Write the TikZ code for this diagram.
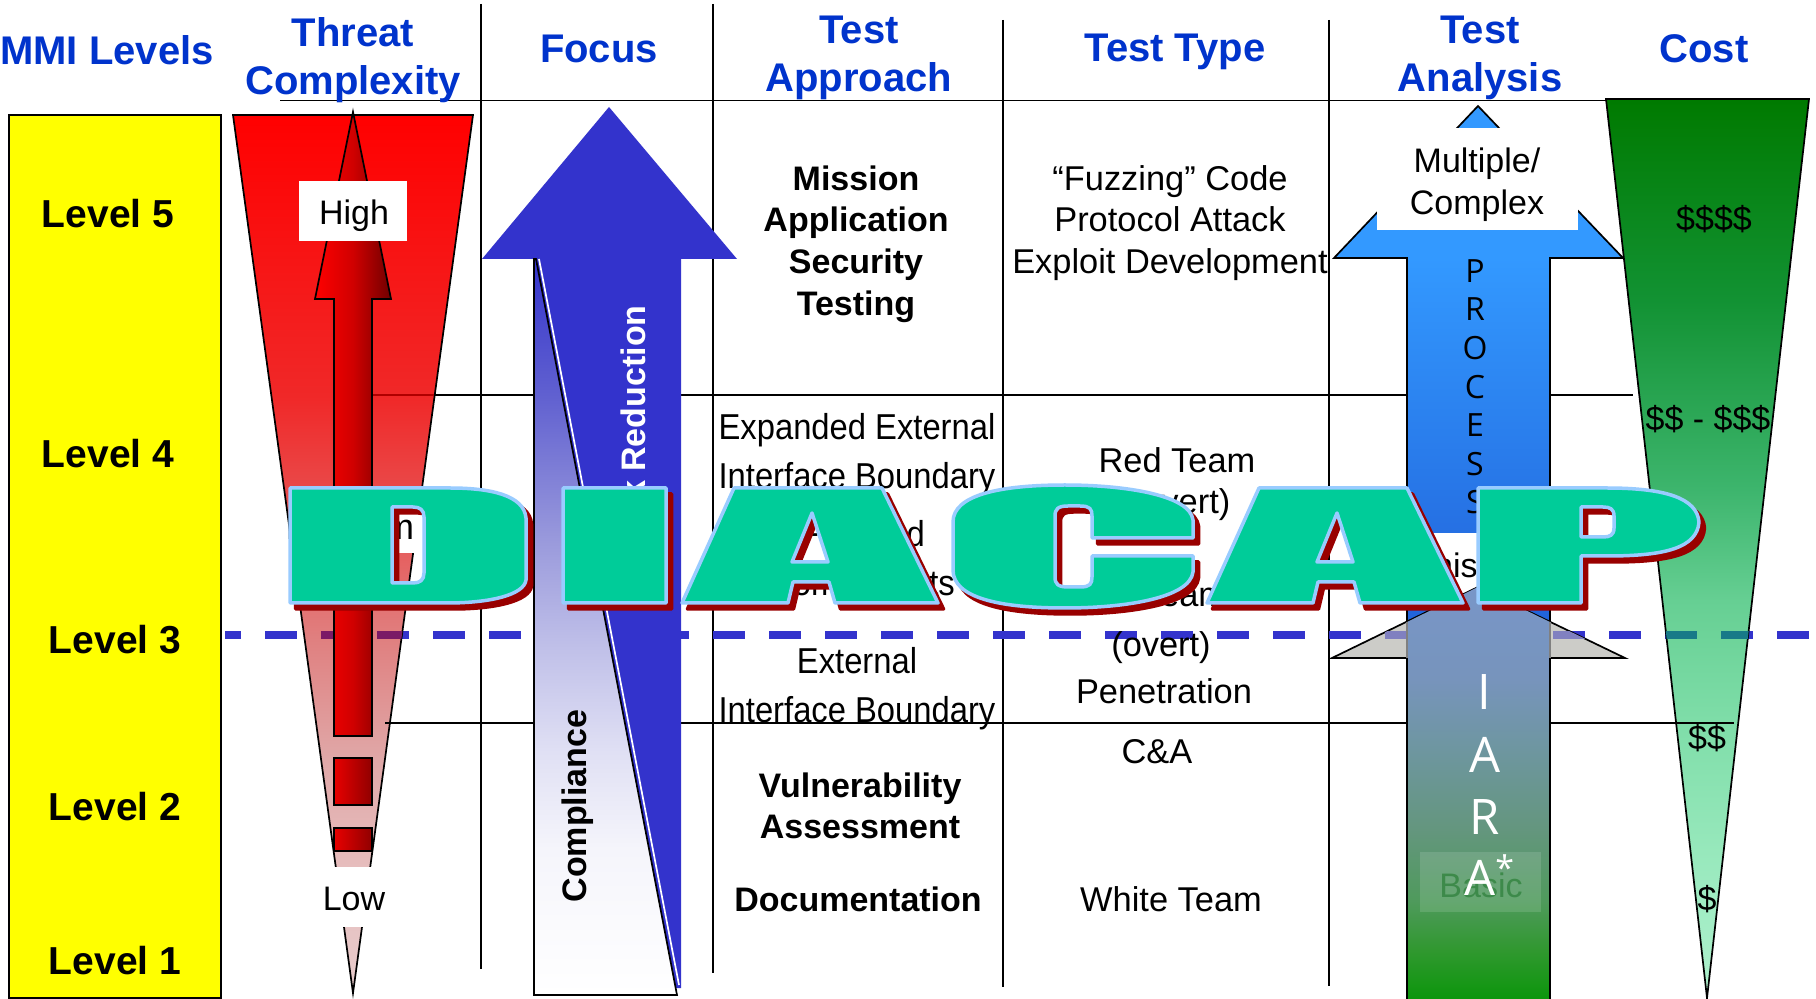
\documentclass[tikz,border=0pt]{standalone}
\usepackage{fontspec}
\usepackage{graphicx}
\setmainfont{Liberation Sans}
\newfontfamily\narrowf[FakeStretch=0.91]{Liberation Sans}
\newfontfamily\opensf{Open Sans}
\definecolor{hdrblue}{HTML}{0033CC}
\definecolor{riskblue}{HTML}{3333CC}
\definecolor{wagreen}{HTML}{00CC99}
\definecolor{waedge}{HTML}{99CCFF}
\definecolor{washadow}{HTML}{990000}
\definecolor{lvlyellow}{HTML}{FFFF00}
\definecolor{ra}{RGB}{232,204,204}\definecolor{rb}{RGB}{230,188,188}\definecolor{rc}{RGB}{224,168,168}
\definecolor{rd}{RGB}{224,128,128}\definecolor{re}{RGB}{232,80,80}\definecolor{rf}{RGB}{240,40,40}\definecolor{rg}{RGB}{255,0,0}
\definecolor{ga}{RGB}{174,240,204}\definecolor{gb}{RGB}{160,236,195}\definecolor{gc}{RGB}{126,221,168}
\definecolor{gd}{RGB}{102,207,147}\definecolor{ge}{RGB}{61,181,109}\definecolor{gf}{RGB}{18,146,51}\definecolor{gg}{RGB}{0,122,0}
\definecolor{ca}{RGB}{255,255,255}\definecolor{cb}{RGB}{245,245,251}\definecolor{cc}{RGB}{224,224,244}
\definecolor{cd}{RGB}{190,190,232}\definecolor{ce}{RGB}{154,154,220}\definecolor{cf}{RGB}{96,96,208}\definecolor{cg}{RGB}{53,53,204}
\definecolor{pa}{RGB}{32,96,216}\definecolor{pb}{RGB}{51,153,255}
\definecolor{ia}{RGB}{12,150,12}\definecolor{ib}{RGB}{48,152,47}\definecolor{ic}{RGB}{79,154,92}
\definecolor{id}{RGB}{100,150,126}\definecolor{ie}{RGB}{110,150,160}\definecolor{if}{RGB}{119,148,188}\definecolor{ig}{RGB}{120,150,200}
\pgfdeclareverticalshading{redtrap}{100bp}{
 color(0bp)=(ra); color(25bp)=(ra); color(32.6bp)=(rb); color(38.3bp)=(rc);
 color(45.1bp)=(rd); color(52.5bp)=(re); color(59bp)=(rf); color(75bp)=(rg); color(100bp)=(rg)}
\pgfdeclareverticalshading{greentrap}{100bp}{
 color(0bp)=(ga); color(25bp)=(ga); color(30.5bp)=(gb); color(40.5bp)=(gc);
 color(47.1bp)=(gd); color(53.3bp)=(ge); color(63.8bp)=(gf); color(75bp)=(gg); color(100bp)=(gg)}
\pgfdeclareverticalshading{complshade}{100bp}{
 color(0bp)=(ca); color(25bp)=(ca); color(34.9bp)=(cb); color(41.5bp)=(cc);
 color(49bp)=(cd); color(55.8bp)=(ce); color(65.8bp)=(cf); color(75bp)=(cg); color(100bp)=(cg)}
\pgfdeclareverticalshading{procshade}{100bp}{
 color(0bp)=(pa); color(25bp)=(pa); color(60.8bp)=(pb); color(75bp)=(pb); color(100bp)=(pb)}
\pgfdeclareverticalshading{iarashade}{100bp}{
 color(0bp)=(ia); color(25bp)=(ia); color(30.9bp)=(ib); color(36.9bp)=(ic);
 color(45.6bp)=(id); color(55.3bp)=(ie); color(63.8bp)=(if); color(75bp)=(ig); color(100bp)=(ig)}
\tikzset{
 gridline/.style={draw=black,line width=.85pt},
 outl/.style={draw=black,line width=.85pt},
 dashline/.style={line width=3.75pt,dash pattern=on 16pt off 12pt,dash phase=8pt},
 txt/.style={inner sep=0pt,align=center,text=black},
 hdr/.style={txt,text=hdrblue,font=\fontsize{20}{24}\selectfont\bfseries},
 lvl/.style={txt,font=\fontsize{19.5}{23}\selectfont\bfseries},
 body/.style={txt,font=\fontsize{17}{20.8}\selectfont},
 bodyb/.style={txt,font=\fontsize{17}{20.8}\selectfont\bfseries},
 coltext/.style={txt,font=\fontsize{17.2}{20.8}\selectfont},
 nartext/.style={txt,font=\narrowf\fontsize{18}{24.5}\selectfont},
 sideb/.style={txt,font=\fontsize{17}{20}\selectfont\bfseries},
 iara/.style={txt,text=white,font=\opensf\fontsize{24.5}{28}\selectfont},
}
% outlines of the stretched banner letters; holes run the other way round
\newcommand\bannerpath{
 (290,488) -- (450,488) .. controls (490,488) and (524,495) .. (526,518) -- (526,580) .. controls (524,595) and (490,603) .. (447,603) -- (290,603) -- cycle
 (392,507) -- (392,583) -- (413,583) .. controls (420,583) and (424,580) .. (424,573) -- (424,517) .. controls (424,510) and (420,507) .. (413,507) -- cycle
 (563,488) -- (666,488) -- (666,603) -- (563,603) -- cycle
 (734,488) -- (882,488) -- (938,603) -- (835,603) -- (829,582) -- (793,582) -- (788,603) -- (682,603) -- cycle
 (812,513) -- (792,562) -- (828,562) -- cycle
 (1065,485) .. controls (1125,485) and (1190,495) .. (1193,520) -- (1193,538) -- (1092,538) -- (1092,516) .. controls (1092,509) and (1090,506) .. (1080,506) -- (1068,506) .. controls (1058,506) and (1055,509) .. (1055,516) -- (1055,577) .. controls (1055,584) and (1058,587) .. (1068,587) -- (1080,587) .. controls (1090,587) and (1092,584) .. (1092,577) -- (1092,556) -- (1193,556) -- (1193,572) .. controls (1190,598) and (1125,608) .. (1065,608) .. controls (1000,608) and (953,598) .. (953,570) -- (953,522) .. controls (953,495) and (1000,485) .. (1065,485) -- cycle
 (1259,488) -- (1407,488) -- (1463,603) -- (1360,603) -- (1354,582) -- (1318,582) -- (1313,603) -- (1207,603) -- cycle
 (1337,513) -- (1317,562) -- (1353,562) -- cycle
 (1478,488) -- (1607,488) .. controls (1665,488) and (1697,498) .. (1699,522) .. controls (1697,548) and (1665,556) .. (1607,556) -- (1581,556) -- (1581,603) -- (1478,603) -- cycle
 (1581,507) -- (1581,537) -- (1603,537) .. controls (1610,537) and (1614,535) .. (1614,528) -- (1614,516) .. controls (1614,509) and (1610,507) .. (1603,507) -- cycle
}
\begin{document}
\begin{tikzpicture}[x=0.5pt,y=-0.5pt]
\useasboundingbox (0,0) rectangle (1816,999);
\fill[white] (0,0) rectangle (1816,999);

% grid
\draw[gridline] (481,4) -- (481,969);
\draw[gridline] (713,4) -- (713,973);
\draw[gridline] (1003,20) -- (1003,987);
\draw[gridline] (1329,20) -- (1329,986);
\draw[gridline] (280,100.5) -- (1606,100.5);
\draw[gridline] (372,395) -- (1633,395);
\draw[gridline] (385,723) -- (1734,723);

% dashed level line
\draw[dashline,riskblue] (225,635) -- (1816,635);

% level column
\draw[outl,fill=lvlyellow] (9,115) rectangle (221,998);
\node[lvl] (l5) at (108,214) {Level 5};
\node[lvl] (l4) at (108,454) {Level 4};
\node[lvl] (l3) at (115,640) {Level 3};
\node[lvl] (l2) at (115,807) {Level 2};
\node[lvl] (l1) at (115,961) {Level 1};

% headers
\node[hdr] (h1) at (107,50) {MMI Levels};
\node[hdr] (h2) at (353,60) {Threat\\Complexity};
\node[hdr] (h3) at (599,49) {Focus};
\node[hdr] (h4) at (859,58) {Test\\Approach};
\node[hdr] (h5) at (1175,52) {Test Type};
\node[hdr] (h6) at (1480,58) {Test\\Analysis};
\node[hdr] (h7) at (1704,49) {Cost};

% threat complexity
\draw[outl,shading=redtrap] (233,115) -- (473,115) -- (353,993) -- cycle;
\begin{scope}
 \clip (233,115) -- (473,115) -- (353,993) -- cycle;
 \draw[dashline,color={rgb,255:red,123;green,26;blue,102}] (225,635) -- (1816,635);
\end{scope}
\draw[gridline] (385,723) -- (395,723);
\draw[line width=.85pt,color={rgb,255:red,176;green,0;blue,0}] (372,395) -- (434,395);
\draw[outl,left color=red,right color={rgb,255:red,112;green,0;blue,0},middle color={rgb,255:red,208;green,0;blue,0}]
 (353,112) -- (391,299) -- (372,299) -- (372,736) -- (334,736) -- (334,299) -- (315,299) -- cycle;
\draw[outl,left color={rgb,255:red,232;green,0;blue,0},right color={rgb,255:red,144;green,0;blue,0}] (334,758) rectangle (372,805);
\draw[outl,left color={rgb,255:red,232;green,0;blue,0},right color={rgb,255:red,144;green,0;blue,0}] (334,828) rectangle (372,851);
\fill[white] (299,181) rectangle (407,241);
\node[body] (high) at (354,216) {High};
\fill[white] (300,505) rectangle (420,553);
\node[txt,font=\fontsize{18}{20}\selectfont,anchor=base] (med) at (350,540) {Medium};
\fill[white] (310,867) rectangle (396,927);
\node[body] (low) at (354,899) {Low};

% focus: risk reduction and compliance
\fill[riskblue] (609,107) -- (737,259) -- (681,259) -- (681,988) -- (534,988) -- (534,259) -- (482,259) -- cycle;
\node[sideb,text=white,rotate=90,anchor=east] (risk) at (633,305) {Risk Reduction};
\draw[outl,shading=complshade] (534,259) -- (534,995) -- (677,995) -- (536,259) -- cycle;
\draw[line width=.85pt,white] (539,259) -- (679,985);
\node[sideb,rotate=90] (comp) at (578,806) {Compliance};

% test approach
\node[bodyb] (a1) at (856,244) {Mission\\Application\\Security\hspace*{7pt}\\Testing};
\node[nartext] (a2) at (857,455) {Expanded External\\Interface Boundary};
\node[nartext] (a3) at (862,562) {Focused\\Components};
\node[nartext] (a4) at (857,689) {External\\Interface Boundary};
\node[bodyb] (a5) at (860,806) {Vulnerability\\Assessment};
\node[bodyb] (a6) at (858,899) {Documentation};

% test type
\node[coltext] (t1) at (1170,223) {“Fuzzing” Code\\Protocol Attack\\Exploit Development};
\node[coltext] (t2) at (1177,460) {Red Team};
\node[coltext] (t3) at (1172,505) {(covert)};
\node[coltext,anchor=base] (t4) at (1185,607) {Team};
\node[coltext] (t5) at (1161,648) {(overt)};
\node[coltext] (t6) at (1164,691) {Penetration};
\node[coltext] (t7) at (1157,752) {C\&A};
\node[coltext] (t8) at (1171,899) {White Team};

% test analysis
\path[shading=procshade] (1407,640) -- (1407,258) -- (1334,258) -- (1478,106) -- (1623,258) -- (1550,258) -- (1550,640) -- cycle;
\draw[outl] (1407,622) -- (1407,258) -- (1334,258) -- (1478,106) -- (1623,258) -- (1550,258) -- (1550,622);
\fill[white] (1377,128) rectangle (1578,230);
\node[body] (m1) at (1477,185) {Multiple/\\Complex};
\node[txt,font=\opensf\fontsize{16}{19.3}\selectfont,anchor=north] (proc) at (1475,259) {P\\R\\O\\C\\E\\S\\S};
\fill[white] (1420,533) rectangle (1541,593);
\node[body,anchor=base east] (nis) at (1478,578) {nis};
\draw[outl,fill={rgb,255:red,204;green,204;blue,200}] (1332,658) -- (1478,587) -- (1625,658) -- cycle;
\begin{scope}
 \clip (1332,658) -- (1478,587) -- (1625,658) -- cycle;
 \draw[dashline,color={rgb,255:red,128;green,128;blue,192}] (225,635) -- (1816,635);
\end{scope}
\path[shading=iarashade] (1478,587) -- (1550,622) -- (1550,999) -- (1407,999) -- (1407,622) -- cycle;
\draw[outl] (1407,658) -- (1407,999);
\draw[outl] (1550,658) -- (1550,999);
\draw[line width=.85pt,color=gray] (1407,622) -- (1407,658);
\draw[line width=.85pt,color=gray] (1550,622) -- (1550,658);
\fill[white,fill opacity=.13] (1420,852) rectangle (1541,912);
\node[body,text={rgb,255:red,61;green,138;blue,74}] (basic) at (1481,885) {Basic};
\node[iara] (ia1) at (1484,692) {I};
\node[iara] (ia2) at (1485,755) {A};
\node[iara] (ia3) at (1485,817) {R};
\node[iara,anchor=west] (ia4) at (1464,875) {A\raisebox{.3em}{\fontsize{17}{17}\selectfont *}};

% cost
\draw[outl,shading=greentrap] (1606,99) -- (1809,99) -- (1707,998) -- cycle;
\begin{scope}
 \clip (1606,99) -- (1809,99) -- (1707,998) -- cycle;
 \draw[dashline,color={rgb,255:red,24;green,122;blue,136}] (225,635) -- (1816,635);
\end{scope}
\draw[gridline] (1670,723) -- (1734,723);
\node[body] (c1) at (1714,219) {\$\$\$\$};
\node[body] (c2) at (1708,419) {\$\$ - \$\$\$};
\node[body] (c3) at (1707,738) {\$\$};
\node[body] (c4) at (1707,899) {\$};

% DIACAP banner
\begin{scope}[shift={(5.5,6)}]
 \fill[washadow,even odd rule] \bannerpath;
 \draw[washadow,line width=1.75pt,line join=round] \bannerpath;
\end{scope}
\fill[wagreen,even odd rule] \bannerpath;
\begin{scope}
 \clip \bannerpath;
 \node[inner sep=0pt,text=wagreen] (banner) at (1195,545) {\resizebox{709pt}{58pt}{\bfseries DIACAP}};
\end{scope}
\draw[waedge,line width=1.75pt,line join=round] \bannerpath;
\end{tikzpicture}
\end{document}
